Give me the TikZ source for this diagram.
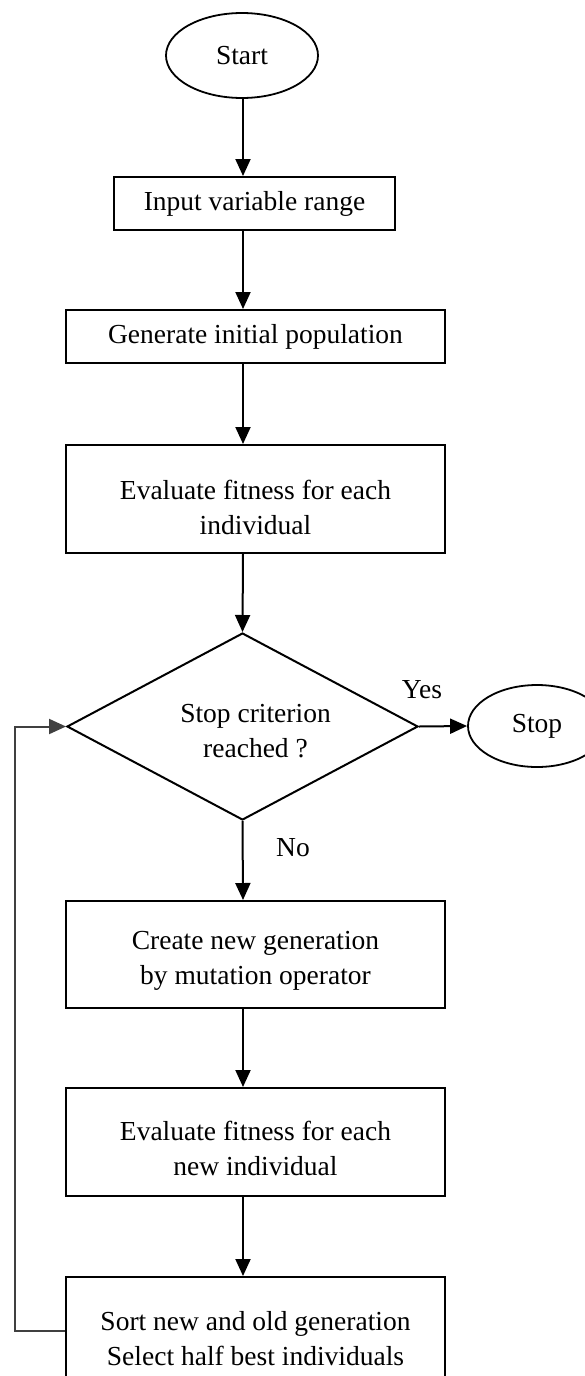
\documentclass[tikz,border=0pt]{standalone}
\usepackage{fontspec}
\setmainfont{Liberation Serif}
\usetikzlibrary{shapes.geometric,arrows.meta}
\begin{document}
\begin{tikzpicture}[x=1pt,y=-1pt,
  every node/.style={font=\fontsize{27.5}{35}\selectfont, text=black},
  procbox/.style={draw, line width=2pt, rectangle, inner sep=0pt, align=center},
  termnode/.style={draw, line width=1.8pt, ellipse, inner sep=0pt},
  decnode/.style={draw, line width=2pt, diamond, inner sep=0pt},
  arr/.style={line width=2pt, -{Triangle[length=17pt,width=15pt]}},
  loopline/.style={line width=2pt, draw=black!75, -{Triangle[length=17pt,width=15pt]}}
]
\useasboundingbox (0,0) rectangle (585,1376);

\node[termnode, minimum width=152pt, minimum height=85pt] (start) at (242,55.5) {Start};
\node[procbox, minimum width=281pt, minimum height=53pt] (input) at (254.5,203.5) {Input variable range};
\node[procbox, minimum width=379pt, minimum height=53pt] (gen) at (255.5,336.5) {Generate initial population};
\node[procbox, minimum width=379pt, minimum height=108pt,
      label={[yshift=-8pt, align=center]center:Evaluate fitness for each\\individual}] (eval) at (255.5,499) {};
\node[decnode, minimum width=351pt, minimum height=187pt,
      label={[xshift=13pt, yshift=-5pt, align=center]center:Stop criterion\\reached ?}] (crit) at (242.5,726.5) {};
\node[termnode, minimum width=138pt, minimum height=82pt] (stop) at (537,726) {Stop};
\node[procbox, minimum width=379pt, minimum height=107pt,
      label={[yshift=-6pt, align=center]center:Create new generation\\by mutation operator}] (create) at (255.5,954.5) {};
\node[procbox, minimum width=379pt, minimum height=108pt,
      label={[yshift=-6pt, align=center]center:Evaluate fitness for each\\new individual}] (evalnew) at (255.5,1142) {};
\node[procbox, minimum width=379pt, minimum height=108pt,
      label={[yshift=-8pt, align=center]center:Sort new and old generation\\Select half best individuals}] (sort) at (255.5,1331) {};

\node (yes) at (422,690) {Yes};
\node (no) at (293,848) {No};

\coordinate (axis) at (243,0);
\coordinate (loop) at (15,0);

\draw[arr] (start.south -| axis) -- (input.north -| axis);
\draw[arr] (input.south -| axis) -- (gen.north -| axis);
\draw[arr] (gen.south -| axis) -- (eval.north -| axis);
\draw[arr] (eval.south -| axis) -- (crit.north);
\draw[arr] (crit.south) -- (create.north -| axis);
\draw[arr] (create.south -| axis) -- (evalnew.north -| axis);
\draw[arr] (evalnew.south -| axis) -- (sort.north -| axis);
\draw[arr] (crit.east) -- (stop.west);
\draw[loopline] (sort.west) -- (sort.west -| loop) -- (crit.west -| loop) -- (crit.west);
\end{tikzpicture}
\end{document}
